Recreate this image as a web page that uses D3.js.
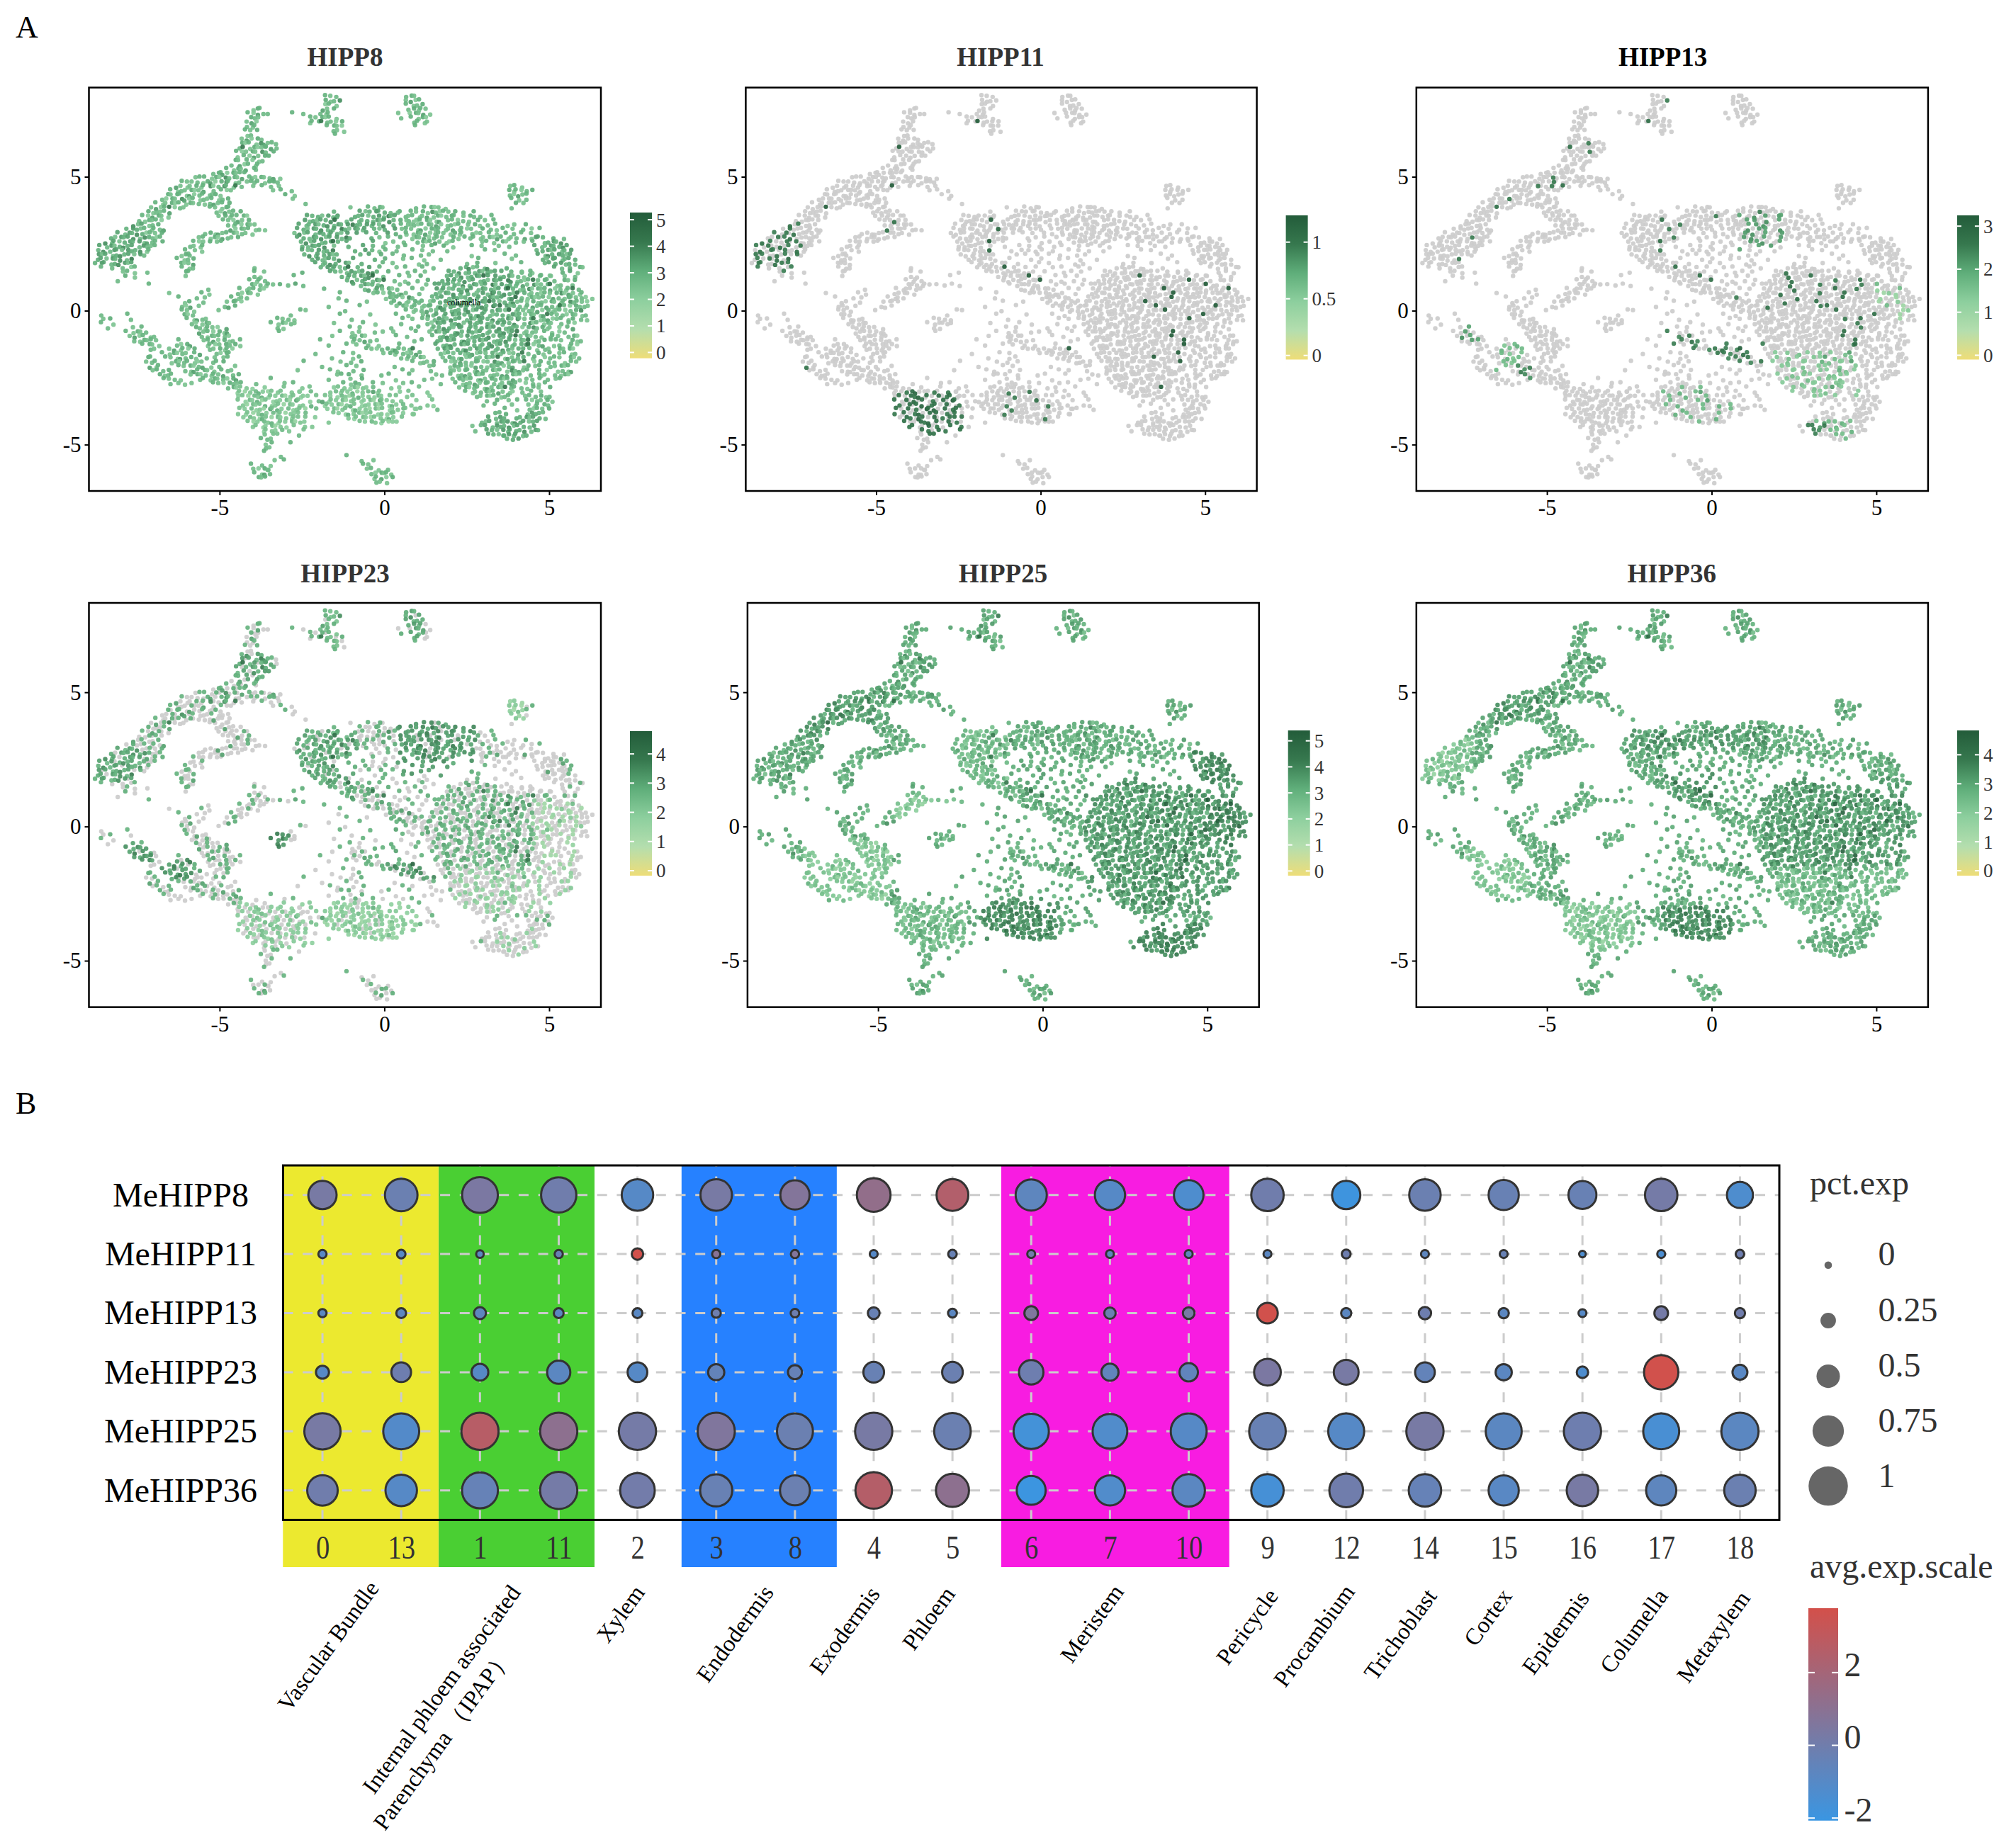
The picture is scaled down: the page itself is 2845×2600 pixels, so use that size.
<!DOCTYPE html>
<html>
<head>
<meta charset="utf-8">
<script src="https://d3js.org/d3.v7.min.js"></script>
<style>
  body { margin: 0; background: #fff; }
  text { font-family: "Liberation Serif", serif; }
</style>
</head>
<body>
<svg id="fig" width="2845" height="2600"></svg>
<script>
// ---- panel A data ----
const panelNames = ["HIPP8", "HIPP11", "HIPP13", "HIPP23", "HIPP25", "HIPP36"];
const legendTicks = [[0,1,2,3,4,5], [0,0.5,1], [0,1,2,3], [0,1,2,3,4], [0,1,2,3,4,5], [0,1,2,3,4]];
const legendDomain = [[-0.22,5.27], [-0.036,1.236], [-0.1,3.25], [-0.17,4.78], [-0.18,5.4], [-0.17,4.84]];
const umapTicks = [-5, 0, 5];

// cells read off the embedding: [y, [x of first char, chars], ...], one char every 0.14 umap units
// the digit is how readily that cell picks up signal (1 = first, 9 = last, 0 = hardly ever)
const cellRows = [
[8.00,[-1.75,"576"],[0.65,"647"]],
[7.84,[-1.82,"4862"],[0.68,"7395"]],
[7.68,[-1.78,"958"],[0.7,"5864"]],
[7.52,[-4.02,"845"],[-1.85,"374"],[0.72,"64857"]],
[7.36,[-4.1,"5936"],[-3.55,"6"],[-2.75,"5 6"],[-1.95,"685"],[0.45,"7"],[0.78,"94738"]],
[7.20,[-4.08,"467"],[-2.2,"574958"],[0.5,"6"],[0.85,"5849"]],
[7.04,[-4.15,"739"],[-2.3,"85416794"],[0.9,"6587"]],
[6.88,[-4.18,"685"],[-1.7,"5479"],[0.98,"5"]],
[6.72,[-4.18,"574"],[-1.55,"678"]],
[6.56,[-4.2,"86"],[-1.45,"5"]],
[6.40,[-4.3,"73946"]],
[6.24,[-4.35,"49582375"],[-3.3,"6"]],
[6.08,[-4.4,"618497536"],[-3.55,"5"]],
[5.92,[-4.45,"5974726"],[-3.4,"4"]],
[5.76,[-4.5,"8 59374"],[-3.55,"4"]],
[5.60,[-4.55,"47 5986"]],
[5.44,[-4.65,"6 39585"]],
[5.28,[-4.75,"58473 6"],[-3.9,"5"]],
[5.12,[-5.2,"645"],[-4.9,"394755"]],
[4.96,[-5.7,"75584926473 6"],[-4.05,"5947638"]],
[4.80,[-6.1,"5776843942586 75"],[-3.95,"658446"],[-3.4,"5"]],
[4.64,[-6.3,"378748529625816"],[-3.95,"7 5"],[-3.45,"6 7"],[3.85,"758"]],
[4.48,[-6.45,"58674973 6 597"],[-3.35,"7"],[-3.1,"5 6"],[3.75,"485964"]],
[4.32,[-6.6,"474583965 7"],[-5.3,"648"],[-3.05,"4 8"],[3.8,"69375"]],
[4.16,[-6.75,"69472395867"],[-5.2,"5864"],[-2.75,"7"],[3.9,"58"],[4.3,"6"]],
[4.00,[-6.9,"58749584768"],[-5.3,"63754"],[-2.4,"6"],[3.95,"4"],[4.25,"7"]],
[3.84,[-7.05,"73951967"],[-5.25,"57845"],[-1.0,"7"],[-0.45,"5647"],[0.95,"6"],[1.25,"54978"],[3.85,"6"]],
[3.68,[-7.2,"486753"],[-5.1,"693754"],[-1.5,"7"],[-0.7,"5974568 4"],[0.4,"6"],[0.85,"5748269574 6 4"]],
[3.52,[-7.3,"593478"],[-5.0,"7485549"],[-2.3,"5769484"],[-1.45,"6"],[-0.9,"6759648275 6"],[0.75,"75873849645 746"],[2.9,"6"],[3.3,"5"]],
[3.36,[-7.45,"684759"],[-4.85,"579374"],[-2.45,"48695731 8"],[-0.95,"58768495374 6 9"],[0.7,"78954983 75968 4 7 5"]],
[3.20,[-7.6,"395864"],[-4.75,"6859477"],[-2.55,"587496384742"],[-0.85,"6748593 6 5 7"],[0.75,"769547398695 748 6 5 8 7 4"]],
[3.04,[-7.8,"746958563"],[-4.65,"39475868"],[-2.6,"56947388526947"],[-0.7,"85 796 4 7"],[0.7,"578394658738597 4 68 5 7 6 9 5"]],
[2.88,[-8.05,"5847369574"],[-5.45,"64837549678"],[-2.7,"739584685694 4"],[-0.5,"5 7 4 6 8"],[0.7,"5847396578485 697 58 4 6 5 7"]],
[2.72,[-8.3,"694753824695"],[-5.6,"758493674"],[-2.6,"568473954826"],[-0.4,"6 7 5 4"],[0.8,"84739657 48 5"],[2.6,"65874935876 38457 6 8"]],
[2.56,[-8.45,"3859647483654"],[-5.75,"5974 75"],[-2.5,"739586417 5"],[-0.3,"5 8"],[0.3,"7 6"],[1.0,"649537895"],[3.0,"758 49 6 7 5 86473"]],
[2.40,[-8.6,"5849637584675"],[-5.9,"6785"],[-2.5,"684753 9"],[-1.1,"6"],[-0.6,"5 7 6"],[0.4,"6 5"],[1.2,"7 5 4 8"],[2.7,"5 7"],[3.5,"7 6"],[4.6,"58947635"]],
[2.24,[-8.65,"738459467385"],[-6.0,"5 78"],[-2.45,"5974862"],[-0.9,"6 4 7"],[-0.2,"8 5 6"],[0.9,"5 7 6"],[1.9,"6"],[3.1,"5 7"],[4.65,"76495874"]],
[2.08,[-8.7,"49586375946"],[-6.2,"846"],[-5.9,"5"],[-2.4,"73856497"],[-0.7,"7 5 4"],[0.3,"5 6"],[1.1,"6 7"],[2.6,"8"],[3.7,"5 6"],[4.7,"58374695"]],
[1.92,[-8.7,"65947382"],[-6.25,"5864"],[-2.2,"6489573"],[-0.9,"5"],[-0.3,"6 4"],[0.6,"7 5 8"],[1.7,"6"],[2.9,"5"],[3.9,"7"],[4.8,"69458756"]],
[1.76,[-8.75,"745863495"],[-6.2,"4973"],[-2.05,"58736 49"],[-0.7,"6"],[0.0,"5 7"],[1.0,"8 6"],[2.5,"6 4"],[3.4,"7"],[4.2,"5"],[4.9,"7564868"]],
[1.60,[-8.55,"5 6"],[-7.95,"6 95"],[-6.1,"586"],[-3.95,"6"],[-1.9,"7485961 7 4"],[-0.1,"5"],[0.4,"7 5"],[1.2,"5 6"],[2.3,"6437583"],[3.7,"6"],[5.2,"58 6 47"]],
[1.44,[-7.9,"758"],[-7.2,"6"],[-6.05,"45"],[-3.9,"5 7"],[-2.5,"6"],[-1.6,"5798469533"],[-0.2,"7 4"],[0.7,"6 5 7"],[2.0,"57386849675"],[3.6,"5 7 6 8"],[4.2,"7 5"],[5.4,"6 58"]],
[1.28,[-7.9,"4 8"],[-6.0,"7"],[-3.95,"68"],[-2.7,"5"],[-1.3,"68574931 6"],[0.5,"5 7 4"],[1.93,"759386471548649"],[4.05,"68 5 7 9"],[4.8,"5 7"],[5.5,"7 6"]],
[1.12,[-8.1,"6"],[-4.05,"5856"],[-1.1,"739658471"],[0.3,"6 8"],[1.0,"6 4"],[1.75,"648573958694752386951745"],[5.15,"6 4"],[5.6,"74"]],
[0.96,[-7.1,"5"],[-4.05,"4968574 6 58"],[-0.9,"5849763"],[0.5,"7 5"],[1.3,"7 5"],[1.7,"575693847952948685372974186"],[5.7,"6"]],
[0.80,[-5.35,"6"],[-4.35,"587569"],[-1.8,"7"],[-0.6,"63857496"],[0.9,"5 7"],[1.55,"48597693584769541786294753968516"]],
[0.64,[-6.5,"7"],[-5.5,"58"],[-4.45,"69478"],[-1.3,"5"],[-0.3,"75946837"],[1.05,"6"],[1.55,"694738568948257369148769574293785"]],
[0.48,[-6.2,"5"],[-5.7,"6 7"],[-4.6,"5876"],[-1.4,"6"],[0.0,"8475926"],[1.5,"57584697385649758316849759368457698"]],
[0.32,[-6.1,"84"],[-5.5,"6"],[-4.75,"7459"],[-1.1,"5"],[-0.5,"7"],[0.2,"65387465"],[1.4,"95648736958471596837594869478526579"]],
[0.16,[-6.15,"693"],[-5.6,"7"],[-4.85,"634"],[-1.7,"6"],[-0.7,"5"],[0.4,"7496587"],[1.3,"458396748596372514976853753681594667"]],
[0.00,[-6.1,"578"],[-5.0,"7"],[-2.5,"57"],[-1.2,"6"],[0.7,"5876"],[1.3,"3794586743958564791857673948759642"]],
[-0.16,[-8.6,"6"],[-7.75,"5"],[-6.1,"496"],[-2.85,"6"],[-1.3,"5"],[-0.4,"7"],[0.4,"5 8"],[1.2,"736585495768358976846594783157694786"]],
[-0.32,[-8.5,"74"],[-7.7,"6"],[-5.95,"58367"],[-3.2,"5768"],[-1.0,"6"],[0.6,"5 7"],[1.2,"578469375849657386492574186397584 68"]],
[-0.48,[-8.55,"5 8"],[-5.85,"69847"],[-3.4,"584967"],[-1.5,"7"],[-0.6,"5 8"],[0.5,"6"],[1.3,"69475863948756948573 6295847 6 59"]],
[-0.64,[-8.4,"6"],[-7.6,"7 5"],[-5.75,"468579 3"],[-3.25,"68"],[-1.0,"5 7"],[0.2,"6"],[0.8,"6 5"],[1.4,"857369458576495386759426487 9 53"]],
[-0.80,[-7.8,"58476"],[-5.6,"3759483"],[-3.15,"5"],[-1.3,"5 8 7"],[-0.3,"6 7"],[0.3,"7"],[1.0,"5"],[1.4,"749658374695874639518767 58 96"]],
[-0.96,[-7.7,"739586"],[-5.55,"6847569"],[-1.55,"7"],[-1.0,"6749"],[0.4,"5 6"],[1.5,"586375948675394685174968 85"],[5.3,"7 649"]],
[-1.12,[-7.6,"684757"],[-6.2,"5"],[-5.45,"7539486 5"],[-1.9,"5"],[-1.0,"85736"],[-0.2,"7"],[0.9,"6 5"],[1.6,"674958376495867359471864 5"],[5.25,"57 486"]],
[-1.28,[-7.3,"5478"],[-6.3,"6943"],[-5.4,"85974648"],[-1.7,"6"],[-1.1,"5 7"],[-0.5,"6 8"],[0.5,"5"],[1.6,"586374956874395687421963 8"],[5.3,"6 859"]],
[-1.44,[-7.1,"67"],[-6.5,"738594"],[-5.3,"674859"],[-0.5,"57964835761"],[1.65,"7495683749658736944 58 67 4"],[5.45,"749"]],
[-1.60,[-6.7,"584967 53"],[-5.1,"6945"],[-2.1,"6"],[-1.2,"5 7"],[0.0,"748569735"],[1.7,"69574863957486597316 48 5 7"],[5.5,"586"]],
[-1.76,[-7.2,"45"],[-6.6,"5783648"],[-5.4,"6 7"],[-4.85,"75"],[-1.6,"6"],[-1.0,"8 5"],[0.5,"685749"],[1.8,"746839567495183764 85 96"],[5.2,"57 496"]],
[-1.92,[-7.2,"765"],[-6.5,"84965897"],[-5.2,"654"],[-2.4,"5"],[-1.3,"7 6 4"],[0.9,"58674"],[1.9,"597368459726384571 94 6"],[5.15,"6 8 57"]],
[-2.08,[-7.1,"385"],[-6.2,"574963"],[-5.3,"8 6"],[-4.5,"7"],[-1.9,"6"],[-1.1,"5 7"],[0.3,"6"],[1.4,"75"],[1.95,"846579368475963 84 75 6"],[5.2,"7495"]],
[-2.24,[-7.0,"7564"],[-6.05,"6835478"],[-4.9,"567"],[-2.6,"7"],[-1.6,"58"],[-0.95,"6 4"],[0.6,"5 7"],[1.4,"6"],[2.0,"679458367495826375 4 9 8"],[5.4,"683"]],
[-2.40,[-6.85,"4865"],[-5.85,"74968573"],[-4.6,"64"],[-1.4,"754"],[-0.7,"6"],[-0.1,"6 5"],[0.8,"5"],[1.6,"76"],[2.05,"5863749586733495 6 8"],[4.75,"57 6849"]],
[-2.56,[-6.65,"5768"],[-5.6,"658476943"],[-3.4,"5"],[-1.7,"6"],[-1.0,"7 4"],[0.3,"8"],[1.2,"6 7"],[2.1,"746958374649538 76 5"],[4.95,"6 75"]],
[-2.72,[-6.5,"6 7"],[-6.1,"8 7"],[-5.15,"5794675"],[-3.9,"6"],[-3.0,"7 5"],[-1.2,"5846"],[-0.3,"5 7"],[0.6,"7 5"],[1.7,"6"],[2.2,"58673945687435 9"],[4.5,"68 5"]],
[-2.88,[-4.75,"647568"],[-3.6,"7"],[-3.0,"5"],[-2.5,"6 5"],[-1.5,"756849674"],[0.2,"6 7"],[1.1,"5"],[2.3,"7496583749165"],[4.15,"68 57 4"]],
[-3.04,[-4.5,"8596437956"],[-3.1,"5 6 7"],[-2.55,"7 4"],[-1.65,"648573964285"],[0.5,"7 5"],[1.3,"6"],[2.5,"58764953789 6"],[4.5,"5 7"]],
[-3.20,[-4.4,"759463857496587"],[-2.3,"7 5"],[-1.75,"5784695376847 5"],[0.4,"5 6"],[0.9,"5"],[1.4,"7"],[2.8,"6749586"],[3.8,"5"],[4.3,"756486"]],
[-3.36,[-4.4,"58473958674925 8"],[-2.0,"63857496587492576"],[0.5,"6"],[1.0,"7"],[1.5,"5"],[3.1,"6 4"],[3.8,"7 5"],[4.35,"596748"]],
[-3.52,[-4.3,"69475386594786 3"],[-1.85,"857496358674958374 6"],[1.3,"68"],[3.0,"6"],[3.4,"5"],[3.9,"7"],[4.4,"78546"]],
[-3.68,[-4.35,"574869253748659 4"],[-1.7,"749658376949587645 7"],[1.0,"75"],[1.6,"6"],[3.7,"5 8"],[4.4,"69574"]],
[-3.84,[-4.45,"6"],[-4.25,"85963748596754"],[-1.5,"57836497586845 7 6"],[0.85,"6"],[3.4,"756"],[4.3,"84675"]],
[-4.00,[-4.25,"7468359476855"],[-2.35,"5 7"],[-1.1,"68547956837 5"],[3.2,"5846"],[4.0,"6749568"]],
[-4.16,[-4.1,"597463857496"],[-2.4,"7"],[-1.7,"6"],[-0.7,"57468597"],[0.4,"7"],[2.95,"695847"],[3.7,"48365975"]],
[-4.32,[-4.0,"65874968"],[-2.7,"5 6"],[-2.2,"6"],[2.7,"7 5"],[3.1,"58467395684"]],
[-4.48,[-3.7,"85674"],[-2.9,"6"],[-2.4,"5"],[2.75,"6"],[3.15,"579485673847"]],
[-4.64,[-3.6,"7 5"],[-3.2,"5"],[-2.6,"6"],[3.2,"5796"],[3.6,"648586"]],
[-4.80,[-3.7,"567"],[3.75,"764"]],
[-4.96,[-3.65,"8 5"],[-2.8,"5"]],
[-5.12,[-3.6,"67"]],
[-5.28,[-3.6,"5"]],
[-5.44,[-3.15,"6"],[-1.1,"5"]],
[-5.60,[-3.3,"7"],[-3.0,"5"],[-0.7,"6"],[-0.3,"7"]],
[-5.76,[-4.0,"5 6"],[-3.5,"8"],[-0.6,"57"]],
[-5.92,[-3.95,"7946"],[-3.55,"6"],[-0.5,"758"],[0.1,"6"]],
[-6.08,[-3.9,"5836"],[-0.4,"69478"],[0.1,"5"]],
[-6.24,[-3.85,"475"],[-0.35,"85394"]],
[-6.40,[-0.25,"678"]]
];

// zones read per panel: [xmin, xmax, ymin, ymax, share, tone]
// share: digits up to this one are expressed; tone: how far up the colour bar that zone sits (0-9)
const zonesHIPP8 = [
  [-2.7,-0.2,0.8,3.7,9,6], [-0.8,0.4,2.8,3.8,9,6], [-8.8,-7.3,1.7,3.3,9,6], [4.5,5.8,1.4,3,9,6],
  [1.5,4,-1.5,1.6,9,6], [-4.5,-2,-4.6,-2.8,9,4], [-1.8,1.6,-4.3,-2.8,9,4], [2,5.5,-3.3,-2,9,5], [3,5,-4.9,-3.8,9,6]
];
const zonesHIPP11 = [
  [-8.8,-7.3,1.4,3.4,5,8], [-4.5,-2.4,-4.6,-3,6,9], [-1.8,0.5,-4.3,-3,3,7], [-2.6,-1.2,2,3.7,2,8],
  [-4.8,-4.3,2.9,3.5,3,8], [-7.4,-6.4,-2.8,-1.8,3,8], [-6.2,-5.9,1.7,2.1,3,8], [-4.9,-4,0.2,0.7,2,8]
];
const zonesHIPP13 = [
  [-1.5,-0.4,-1.5,-0.7,6,8], [-0.4,1.6,-2,-1.2,6,8], [0.8,2.2,2.2,3.6,5,6], [-6.6,-5.7,-2.3,-1.1,6,4],
  [-7.7,-7,-1.1,-0.4,5,6], [-6.2,-5.5,-2.6,-2,5,7], [1.8,4.5,-3.2,-1.5,5,3], [3,4.5,-4.8,-4,5,4],
  [2.9,3.5,-4.6,-4.2,8,8], [-1.5,1,-4.3,-2.8,4,4], [-4.5,-2.5,-4.6,-2.8,1,6], [5,6.4,-0.6,1,4,1], [1.5,2.7,0,1.5,3,8]
];
const zonesHIPP23 = [
  [-2.7,-0.8,0.7,3.7,8,6], [0.4,2.8,1.9,4,8,7], [-0.5,0.4,-1.8,0.3,7,6], [1.6,4.5,-1.5,1.2,6,5],
  [2,6.4,-3.3,-1.5,5,2], [4.5,6.4,-1.5,1,5,1], [3.5,5.5,1.2,3,3,5], [3,5,-4.9,-3.5,4,2],
  [-4.5,-2,-4.5,-2.8,6,3], [-1.8,1,-4.2,-2.8,8,3], [-8.8,-7.4,1.7,3,8,6], [-3.6,-2.9,-0.8,-0.2,9,8],
  [-7.9,-7,-1.4,-0.6,8,7], [-6.8,-5.8,-2,-1.1,8,7], [-8.8,-8,-4.5,-3.2,9,6], [-5.6,-4.3,2.5,4.2,3,5],
  [-4.5,-3.5,5.4,6.5,8,6], [-2,-1.3,6.7,8.1,8,5], [0.5,1.1,7,8.1,8,6], [3.7,4.3,4,4.7,9,3], [0.2,1.5,-2,-1.4,7,7]
];
const zonesHIPP25 = [
  [1.3,6.4,-3.3,1.8,10,7], [5,6.4,-0.8,1,10,8], [-8.8,-7.2,1.7,3.3,10,6], [-7.5,-5,3.2,5,10,7],
  [-1.8,0.5,-4.3,-2.7,10,8], [-4.5,-2.3,-4.6,-2.8,10,5], [-7.3,-4.6,-2.7,-0.5,10,4], [2.7,5,-4.9,-3.6,10,8],
  [4.5,5.8,1.6,3,10,8], [-4.6,-2.6,0.2,1.2,10,4], [-2.7,-1,1.5,3.7,10,5]
];
const zonesHIPP36 = [
  [1.5,6.4,-1.5,1.8,9,7], [2,6,-3.3,-1.5,9,5], [-8.8,-7.2,1.7,3.3,9,4], [-6.8,-5,4,5,9,7],
  [-1.5,0.6,-4.3,-3,9,8], [-4.5,-2.3,-4.6,-2.8,9,4], [-7.5,-5.5,-2.6,-0.8,9,4], [-2.5,-0.5,2.8,3.6,9,7],
  [-0.5,1.9,2.9,3.7,9,7], [-1.5,0.3,0.8,2,9,7]
];
const panelZones = [zonesHIPP8, zonesHIPP11, zonesHIPP13, zonesHIPP23, zonesHIPP25, zonesHIPP36];
const panelShare = [9, 1, 2, 5, 10, 9];
const panelTone = [5, 8, 6, 5, 6, 6];

// ---- panel B data ----
const genes = ["MeHIPP8", "MeHIPP11", "MeHIPP13", "MeHIPP23", "MeHIPP25", "MeHIPP36"];
const clusters = ["0","13","1","11","2","3","8","4","5","6","7","10","9","12","14","15","16","17","18"];
const pctHIPP8  = [.72,.855,.957,.94,.82,.82,.75,.89,.83,.81,.78,.76,.85,.72,.82,.78,.71,.85,.65];
const pctHIPP11 = [.09,.10,.07,.09,.19,.09,.09,.08,.10,.08,.08,.08,.08,.11,.08,.08,.04,.08,.10];
const pctHIPP13 = [.09,.14,.21,.14,.14,.12,.10,.20,.11,.26,.19,.20,.48,.15,.22,.15,.08,.26,.15];
const pctHIPP23 = [.24,.45,.36,.56,.45,.34,.27,.48,.48,.60,.37,.41,.67,.61,.45,.34,.19,.91,.30];
const pctHIPP25 = [.97,.96,1,1,1,1,.96,1,.98,.94,.92,.96,.98,.96,1,.96,1,.96,1];
const pctHIPP36 = [.79,.82,.96,1,.92,.84,.77,.98,.87,.74,.78,.85,.85,.89,.85,.78,.82,.78,.82];
const avgHIPP8  = [.3,-.2,.4,0,-1,.3,.7,1.3,2.5,-.7,-1,-1.3,0,-1.9,-.2,-.3,-.3,.2,-1.3];
const avgHIPP11 = [-.9,-.9,-.8,-.3,3.7,.9,.7,-1,-.3,.1,-.7,-.7,-.8,-.1,-.7,-.3,-1.3,-1.4,-.1];
const avgHIPP13 = [-.8,-.7,-.7,-.8,-.9,-.1,-.1,-.3,-.8,.6,-.2,.3,3.7,-.8,-.1,-.8,-1,.2,0];
const avgHIPP23 = [-1,-.1,-1,-.8,-1,-.5,-.4,-.3,-.2,-.1,-.6,-.6,.4,.3,-.5,-.8,-1.3,3.7,-.9];
const avgHIPP25 = [.3,-1.1,2.7,1.1,.2,.6,-.2,.3,-.2,-1.7,-1.2,-1,-.3,-1,.3,-.8,-.1,-1.5,-.8];
const avgHIPP36 = [0,-1,-.4,.2,.1,-.3,-.2,2.6,1.1,-2,-1.2,-.8,-1.6,0,-.4,-.9,.3,-.7,-.2];
const pctRows = [pctHIPP8, pctHIPP11, pctHIPP13, pctHIPP23, pctHIPP25, pctHIPP36];
const avgRows = [avgHIPP8, avgHIPP11, avgHIPP13, avgHIPP23, avgHIPP25, avgHIPP36];
const cellTypes = ["Vascular Bundle", "Internal phloem associated", "Parenchyma （IPAP）", "Xylem", "Endodermis", "Exodermis",
  "Phloem", "Meristem", "Pericycle", "Procambium", "Trichoblast", "Cortex", "Epidermis", "Columella", "Metaxylem"];
const pctLegend = [0, 0.25, 0.5, 0.75, 1];
const avgLegend = [2, 0, -2];

// ---- layout ----
const svg = d3.select("#fig");
const ink = "#333333";
const panelLeft = [125.5, 1052.4, 1998.8, 125.5, 1054.9, 1998.8];
const panelRight = [848, 1773.6, 2720.9, 848, 1776.7, 2720.9];
const panelTop = [123.6, 123.6, 123.6, 851, 851, 851];
const panelBottom = [693, 693, 693, 1421.6, 1421.6, 1421.6];
const titleX = [487, 1412, 2346.6, 487, 1415.5, 2359.3];
const titleY = [93, 93, 93, 822, 822, 822];
const barLeft = [889, 1814.6, 2761.9, 889, 1817.7, 2761.9];
const barTop = [300, 304, 304, 1032, 1031, 1031];
const barBottom = [505.7, 507.5, 507.5, 1236, 1236, 1236];

const exprStops = ["#eedd78", "#b4deae", "#8dcf9e", "#5fae7a", "#36784e", "#235c3a"];
const exprColor = d3.scaleLinear().domain([0, .2, .4, .6, .8, 1]).range(exprStops).clamp(true);
const digitShift = [-.25, .25, .17, .1, .05, .02, -.02, -.05, -.08, -.12];
const nudgeX = [.03, -.04, .05, -.02, .04, -.05, .01, -.03, .05, -.01];
const nudgeY = [-.03, .04, .01, -.05, .03, .05, -.02, .02, -.04, .03];

// unpack the typed rows into cells
const cells = [];
cellRows.forEach(row => {
  row.slice(1).forEach(seg => {
    seg[1].split("").forEach((ch, k) => {
      if (ch === " ") return;
      const d = +ch;
      cells.push({ x: seg[0] + k * 0.14 + nudgeX[d], y: row[0] + nudgeY[d], digit: d, rank: d === 0 ? 10 : d });
    });
  });
});

function zoneFor(c, p) {
  let share = panelShare[p], tone = panelTone[p];
  panelZones[p].forEach(z => {
    if (c.x >= z[0] && c.x <= z[1] && c.y >= z[2] && c.y <= z[3]) { share = z[4]; tone = z[5]; }
  });
  return [share, tone];
}

const defs = svg.append("defs");

panelNames.forEach((name, p) => {
  const x = d3.scaleLinear().domain([-8.965, 6.57]).range([panelLeft[p], panelRight[p]]);
  const y = d3.scaleLinear().domain([-6.73, 8.33]).range([panelBottom[p], panelTop[p]]);
  const g = svg.append("g");

  const shown = cells.map(c => {
    const [share, tone] = zoneFor(c, p);
    return { c, on: c.rank <= share, t: 0.2 + tone * 0.07 + digitShift[c.digit] };
  });
  shown.sort((a, b) => (a.on === b.on ? 0 : a.on ? 1 : -1));

  g.selectAll("circle").data(shown).join("circle")
    .attr("cx", d => x(d.c.x))
    .attr("cy", d => y(d.c.y))
    .attr("r", 3.2)
    .attr("fill", d => d.on ? exprColor(d.t) : "#cccccc")
    .attr("opacity", 0.92);

  // frame
  g.append("rect")
    .attr("x", panelLeft[p]).attr("y", panelTop[p])
    .attr("width", panelRight[p] - panelLeft[p]).attr("height", panelBottom[p] - panelTop[p])
    .attr("fill", "none").attr("stroke", "#000").attr("stroke-width", 2.5);

  const xAxis = g.append("g").attr("transform", "translate(0," + panelBottom[p] + ")")
    .call(d3.axisBottom(x).tickValues(umapTicks).tickSize(6).tickPadding(6).tickFormat(d => String(d)));
  const yAxis = g.append("g").attr("transform", "translate(" + panelLeft[p] + ",0)")
    .call(d3.axisLeft(y).tickValues(umapTicks).tickSize(6).tickPadding(5).tickFormat(d => String(d)));
  [xAxis, yAxis].forEach(a => {
    a.select(".domain").remove();
    a.selectAll("line").attr("stroke", "#000").attr("stroke-width", 2);
    a.selectAll("text").attr("font-family", "Liberation Serif").attr("font-size", 31).attr("fill", "#000");
  });

  g.append("text").attr("x", titleX[p]).attr("y", titleY[p])
    .attr("text-anchor", "middle").attr("font-weight", "bold").attr("font-size", 37)
    .attr("fill", name === "HIPP13" ? "#000" : ink).text(name);

  // colour bar
  const gradId = "expr" + p;
  const grad = defs.append("linearGradient").attr("id", gradId).attr("x1", 0).attr("x2", 0).attr("y1", 1).attr("y2", 0);
  exprStops.forEach((col, i) => grad.append("stop").attr("offset", i / (exprStops.length - 1)).attr("stop-color", col));
  const barWidth = 31;
  g.append("rect").attr("x", barLeft[p]).attr("y", barTop[p])
    .attr("width", barWidth).attr("height", barBottom[p] - barTop[p]).attr("fill", "url(#" + gradId + ")");
  const bar = d3.scaleLinear().domain(legendDomain[p]).range([barBottom[p], barTop[p]]);
  legendTicks[p].forEach(t => {
    [[0, 6], [barWidth - 6, barWidth]].forEach(e => {
      g.append("line").attr("x1", barLeft[p] + e[0]).attr("x2", barLeft[p] + e[1])
        .attr("y1", bar(t)).attr("y2", bar(t)).attr("stroke", "#fff").attr("stroke-width", 2);
    });
    g.append("text").attr("x", barLeft[p] + barWidth + 6).attr("y", bar(t)).attr("dy", "0.35em")
      .attr("font-size", 27).attr("fill", ink).text(t);
  });
});

// stray cluster label left on the first panel
svg.append("text").attr("x", 631).attr("y", 431).attr("font-size", 12).attr("fill", "#000").text("columella");

svg.append("text").attr("x", 22).attr("y", 53).attr("font-size", 44).attr("fill", "#000").text("A");
svg.append("text").attr("x", 22).attr("y", 1572).attr("font-size", 44).attr("fill", "#000").text("B");

// ---- dot plot ----
const plot = { left: 399.5, right: 2511, top: 1645, bottom: 2145.4, stripBottom: 2212 };
const xDot = d3.scalePoint().domain(clusters).range([plot.left, plot.right]).padding(0.5);
const yDot = d3.scalePoint().domain(genes).range([plot.top, plot.bottom]).padding(0.5);
const dotSize = d3.scaleLinear().domain([0, 1]).range([10.6, 55.5]);
const avgColor = d3.scaleLinear().domain([-2.07, 3.77]).range(["#3a96e2", "#d3504a"]);

const strips = [
  { from: "0", to: "13", padL: 55.8, padR: 52.7, color: "#ece92f" },
  { from: "1", to: "11", padL: 58.3, padR: 50.5, color: "#4acf33" },
  { from: "3", to: "8", padL: 48.9, padR: 59, color: "#2681ff" },
  { from: "6", to: "10", padL: 42.3, padR: 57.2, color: "#f81ce1" }
];
svg.append("g").selectAll("rect").data(strips).join("rect")
  .attr("x", d => xDot(d.from) - d.padL)
  .attr("y", plot.top)
  .attr("width", d => xDot(d.to) + d.padR - xDot(d.from) + d.padL)
  .attr("height", plot.stripBottom - plot.top)
  .attr("fill", d => d.color);

const grid = svg.append("g").attr("stroke", "#cccccc").attr("stroke-width", 3).attr("stroke-dasharray", "14 13.7");
grid.selectAll(".v").data(clusters).join("line").attr("class", "v")
  .attr("x1", d => xDot(d)).attr("x2", d => xDot(d)).attr("y1", plot.bottom).attr("y2", plot.top);
grid.selectAll(".h").data(genes).join("line").attr("class", "h")
  .attr("y1", d => yDot(d)).attr("y2", d => yDot(d)).attr("x1", plot.left).attr("x2", plot.right);

const dots = [];
genes.forEach((g, i) => clusters.forEach((c, j) => dots.push({ g, c, pct: pctRows[i][j], avg: avgRows[i][j] })));
svg.append("g").selectAll("circle").data(dots).join("circle")
  .attr("cx", d => xDot(d.c))
  .attr("cy", d => yDot(d.g))
  .attr("r", d => (dotSize(d.pct) - 3) / 2)
  .attr("fill", d => avgColor(d.avg))
  .attr("stroke", ink)
  .attr("stroke-width", 3);

svg.append("rect").attr("x", plot.left).attr("y", plot.top)
  .attr("width", plot.right - plot.left).attr("height", plot.bottom - plot.top)
  .attr("fill", "none").attr("stroke", "#000").attr("stroke-width", 3);

const xDotAxis = svg.append("g").attr("transform", "translate(0," + plot.bottom + ")")
  .call(d3.axisBottom(xDot).tickSize(0).tickPadding(22));
xDotAxis.select(".domain").remove();
xDotAxis.selectAll("text").attr("font-family", "Liberation Serif").attr("font-size", 46)
  .attr("fill", ink).attr("transform", "scale(0.84,1)");

const yDotAxis = svg.append("g").attr("transform", "translate(" + plot.left + ",0)")
  .call(d3.axisLeft(yDot).tickSize(0));
yDotAxis.select(".domain").remove();
yDotAxis.selectAll("text").attr("font-family", "Liberation Serif").attr("font-size", 48)
  .attr("fill", "#000").attr("text-anchor", "middle").attr("x", -144.5);

// rotated cell type names, placed by their right hand end
const typeEnds = [[536,2242],[736,2248],[723,2338],[911,2248],[1093,2248],[1243,2250],[1349,2250],[1587,2247],
  [1805,2253],[1913,2247],[2029,2253],[2135,2253],[2244,2256],[2355,2253],[2471,2256]];
svg.append("g").selectAll("text").data(cellTypes).join("text")
  .attr("transform", (d, i) => "translate(" + typeEnds[i][0] + "," + typeEnds[i][1] + ") rotate(-54)")
  .attr("text-anchor", "end").attr("font-size", 33).attr("fill", "#000")
  .text(d => d);

// ---- legends of the dot plot ----
svg.append("text").attr("x", 2554).attr("y", 1686).attr("font-size", 48).attr("fill", ink).text("pct.exp");
const pctDotY = [1785.7, 1864, 1942.6, 2019.8, 2097.6];
const pctTextY = [1769, 1848, 1926, 2004, 2081.7];
pctLegend.forEach((v, i) => {
  svg.append("circle").attr("cx", 2580).attr("cy", pctDotY[i]).attr("r", dotSize(v) / 2).attr("fill", "#666666");
  svg.append("text").attr("x", 2650.6).attr("y", pctTextY[i]).attr("dy", "0.35em")
    .attr("font-size", 48).attr("fill", ink).text(v);
});

svg.append("text").attr("x", 2554).attr("y", 2227).attr("font-size", 48).attr("fill", ink).text("avg.exp.scale");
const avgBar = d3.scaleLinear().domain([-2.07, 3.77]).range([2569.8, 2270]);
const avgGrad = defs.append("linearGradient").attr("id", "avgGrad").attr("x1", 0).attr("x2", 0).attr("y1", 1).attr("y2", 0);
avgGrad.append("stop").attr("offset", 0).attr("stop-color", avgColor(-2.07));
avgGrad.append("stop").attr("offset", 1).attr("stop-color", avgColor(3.77));
svg.append("rect").attr("x", 2552).attr("y", 2270).attr("width", 42).attr("height", 299.8).attr("fill", "url(#avgGrad)");
avgLegend.forEach(v => {
  [[0, 9], [33, 42]].forEach(e => {
    svg.append("line").attr("x1", 2552 + e[0]).attr("x2", 2552 + e[1])
      .attr("y1", avgBar(v)).attr("y2", avgBar(v)).attr("stroke", "#fff").attr("stroke-width", 2);
  });
  svg.append("text").attr("x", 2602.6).attr("y", avgBar(v) - 12).attr("dy", "0.35em")
    .attr("font-size", 48).attr("fill", ink).text(String(v));
});
</script>
</body>
</html>
